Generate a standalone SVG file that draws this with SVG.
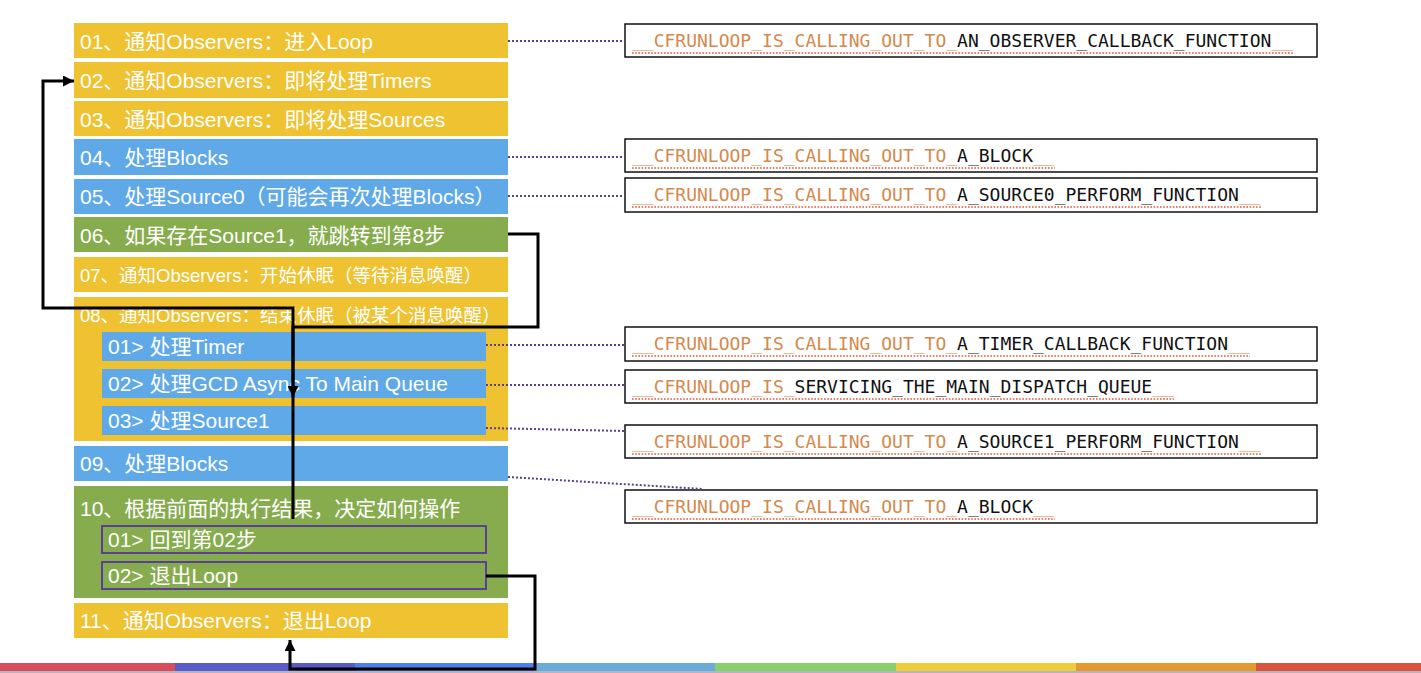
<svg xmlns="http://www.w3.org/2000/svg" width="1421" height="673" viewBox="0 0 1421 673">
<defs>
<style>
.y{fill:#EEC231}
.b{fill:#5FA9E9}
.g{fill:#86AC4E}
.t{font-family:"Liberation Sans","Noto Sans CJK SC",sans-serif;font-size:21px;fill:#fff}
.ts{font-size:18.5px}
.sub{fill:#86AC4E;stroke:#5B3E96;stroke-width:2}
.cb{fill:#fff;stroke:#111;stroke-width:1.5}
.code{font-family:"DejaVu Sans Mono",monospace;font-size:18px;fill:#111}
.o{fill:#D5894C}
.sq{stroke:#E2573A;stroke-width:1.6;stroke-dasharray:1.6 1.6;fill:none}
.dot{stroke:#5A3F94;stroke-width:2;stroke-dasharray:2 2;fill:none}
.conn{stroke:#000;stroke-width:3;fill:none}
</style>
<marker id="ah" viewBox="0 0 10 10" refX="10" refY="5" markerWidth="11" markerHeight="11" markerUnits="userSpaceOnUse" orient="auto">
<path d="M0,0 L10,5 L0,10 z" fill="#000"/>
</marker>
</defs>
<rect width="1421" height="673" fill="#fff"/>

<g id="colorbar">
<rect x="0" y="663" width="175" height="8" fill="#D94C5A"/>
<rect x="175" y="663" width="180" height="8" fill="#5B5AC8"/>
<rect x="355" y="663" width="180" height="8" fill="#4A80F0"/>
<rect x="535" y="663" width="180" height="8" fill="#6AAAD8"/>
<rect x="715" y="663" width="181" height="8" fill="#87D06A"/>
<rect x="896" y="663" width="180" height="8" fill="#F0CC3A"/>
<rect x="1076" y="663" width="180" height="8" fill="#E3992E"/>
<rect x="1256" y="663" width="165" height="8" fill="#D9533D"/>
<rect x="0" y="671" width="1421" height="2" fill="#B4B4C4"/>
</g>

<g id="row01"><rect class="y" x="74" y="23" width="434" height="35"/><text class="t" x="80" y="49">01、通知Observers：进入Loop</text></g>
<g id="row02"><rect class="y" x="74" y="62" width="434" height="36"/><text class="t" x="80" y="88">02、通知Observers：即将处理Timers</text></g>
<g id="row03"><rect class="y" x="74" y="101" width="434" height="35"/><text class="t" x="80" y="127">03、通知Observers：即将处理Sources</text></g>
<g id="row04"><rect class="b" x="74" y="139" width="434" height="36"/><text class="t" x="80" y="165">04、处理Blocks</text></g>
<g id="row05"><rect class="b" x="74" y="179" width="434" height="35"/><text class="t" x="80" y="204">05、处理Source0（可能会再次处理Blocks）</text></g>
<g id="row06"><rect class="g" x="74" y="217" width="434" height="35"/><text class="t" x="80" y="243">06、如果存在Source1，就跳转到第8步</text></g>
<g id="row07"><rect class="y" x="74" y="257" width="434" height="35"/><text class="t ts" x="80" y="282">07、通知Observers：开始休眠（等待消息唤醒）</text></g>
<g id="row08"><rect class="y" x="74" y="297" width="434" height="144"/><text class="t ts" x="80" y="322">08、通知Observers：结束休眠（被某个消息唤醒）</text></g>
<g id="row08-1"><rect class="b" x="102" y="332" width="384" height="29"/><text class="t" x="108" y="354">01&gt; 处理Timer</text></g>
<g id="row08-2"><rect class="b" x="102" y="369" width="384" height="29"/><text class="t" x="108" y="391">02&gt; 处理GCD Async To Main Queue</text></g>
<g id="row08-3"><rect class="b" x="102" y="406" width="384" height="29"/><text class="t" x="108" y="428">03&gt; 处理Source1</text></g>
<g id="row09"><rect class="b" x="74" y="446" width="434" height="35"/><text class="t" x="80" y="471">09、处理Blocks</text></g>
<g id="row10"><rect class="g" x="74" y="486" width="434" height="112"/><text class="t" x="80" y="516">10、根据前面的执行结果，决定如何操作</text></g>
<g id="row10-1"><rect class="sub" x="102" y="526" width="384" height="27"/><text class="t" x="108" y="547">01&gt; 回到第02步</text></g>
<g id="row10-2"><rect class="sub" x="102" y="562" width="384" height="27"/><text class="t" x="108" y="583">02&gt; 退出Loop</text></g>
<g id="row11"><rect class="y" x="74" y="603" width="434" height="35"/><text class="t" x="80" y="628">11、通知Observers：退出Loop</text></g>

<g id="fn1"><rect class="cb" x="625" y="24" width="692" height="33"/><text class="code" x="632" y="47"><tspan class="o">__CFRUNLOOP_IS_CALLING_OUT_TO_</tspan>AN_OBSERVER_CALLBACK_FUNCTION<tspan class="o">__</tspan></text><line class="sq" x1="632" y1="53" x2="1293" y2="53"/></g>
<g id="fn2"><rect class="cb" x="625" y="139" width="692" height="33"/><text class="code" x="632" y="162"><tspan class="o">__CFRUNLOOP_IS_CALLING_OUT_TO_</tspan>A_BLOCK<tspan class="o">__</tspan></text><line class="sq" x1="632" y1="168" x2="1055" y2="168"/></g>
<g id="fn3"><rect class="cb" x="625" y="178" width="692" height="34"/><text class="code" x="632" y="201"><tspan class="o">__CFRUNLOOP_IS_CALLING_OUT_TO_</tspan>A_SOURCE0_PERFORM_FUNCTION<tspan class="o">__</tspan></text><line class="sq" x1="632" y1="207" x2="1261" y2="207"/></g>
<g id="fn4"><rect class="cb" x="625" y="327" width="692" height="34"/><text class="code" x="632" y="350"><tspan class="o">__CFRUNLOOP_IS_CALLING_OUT_TO_</tspan>A_TIMER_CALLBACK_FUNCTION<tspan class="o">__</tspan></text><line class="sq" x1="632" y1="356" x2="1250" y2="356"/></g>
<g id="fn5"><rect class="cb" x="625" y="370" width="692" height="33"/><text class="code" x="632" y="393"><tspan class="o">__CFRUNLOOP_IS_</tspan>SERVICING_THE_MAIN_DISPATCH_QUEUE<tspan class="o">__</tspan></text><line class="sq" x1="632" y1="399" x2="1174" y2="399"/></g>
<g id="fn6"><rect class="cb" x="625" y="425" width="692" height="33"/><text class="code" x="632" y="448"><tspan class="o">__CFRUNLOOP_IS_CALLING_OUT_TO_</tspan>A_SOURCE1_PERFORM_FUNCTION<tspan class="o">__</tspan></text><line class="sq" x1="632" y1="454" x2="1261" y2="454"/></g>
<g id="fn7"><rect class="cb" x="625" y="490" width="692" height="33"/><text class="code" x="632" y="513"><tspan class="o">__CFRUNLOOP_IS_CALLING_OUT_TO_</tspan>A_BLOCK<tspan class="o">__</tspan></text><line class="sq" x1="632" y1="519" x2="1055" y2="519"/></g>

<g id="connectors">
<path class="dot" d="M508,41 H625"/>
<path class="dot" d="M508,157 H625"/>
<path class="dot" d="M508,196 H625"/>
<path class="dot" d="M486,345 H625"/>
<path class="dot" d="M486,385 H625"/>
<path class="dot" d="M486,428 L625,431"/>
<path class="dot" d="M508,477 L703,489"/>
<path class="conn" d="M293,519 V308 H43 V81 H74" marker-end="url(#ah)"/>
<path class="conn" d="M508,234 H538 V327 H293 V397" marker-end="url(#ah)"/>
<path class="conn" d="M486,576 H535 V669 H290 V640" marker-end="url(#ah)"/>
</g>
</svg>
